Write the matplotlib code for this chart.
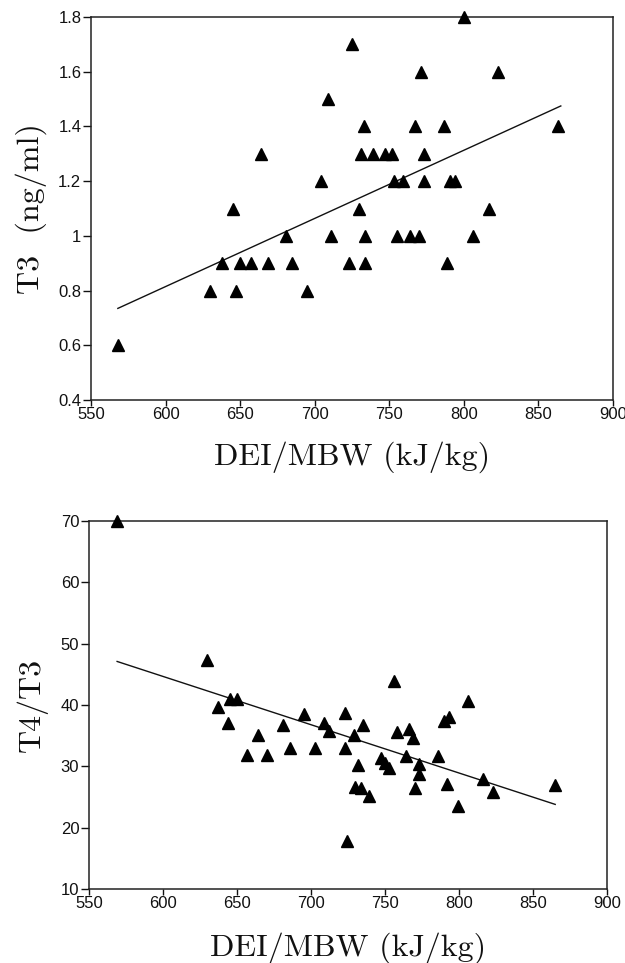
import matplotlib
matplotlib.use("Agg")
import matplotlib.pyplot as plt

# ── data ──────────────────────────────────────────────

# upper panel: T3 (ng/ml) vs DEI/MBW
t3_x = [800, 725, 771, 823, 709, 733, 767, 787, 863,
        664, 731, 739, 747, 752, 773,
        704, 753, 759, 773, 791, 794,
        645, 730, 817,
        681, 711, 734, 755, 764, 770, 806,
        638, 650, 657, 669, 685, 723, 734, 789,
        630, 647, 695,
        568]
t3_y = [1.8, 1.7, 1.6, 1.6, 1.5, 1.4, 1.4, 1.4, 1.4,
        1.3, 1.3, 1.3, 1.3, 1.3, 1.3,
        1.2, 1.2, 1.2, 1.2, 1.2, 1.2,
        1.1, 1.1, 1.1,
        1.0, 1.0, 1.0, 1.0, 1.0, 1.0, 1.0,
        0.9, 0.9, 0.9, 0.9, 0.9, 0.9, 0.9, 0.9,
        0.8, 0.8, 0.8,
        0.6]
t3_fit_x = [568, 865]
t3_fit_y = [0.735, 1.475]

# lower panel: T4/T3 vs DEI/MBW
ratio_x = [569, 630, 756, 645, 650, 806, 637, 793, 790, 695,
           723, 644, 681, 709, 735, 712, 664, 758, 766, 729,
           769, 657, 670, 686, 703, 723, 732, 747, 750, 753,
           764, 773, 773, 786, 730, 734, 739, 770, 792, 816,
           823, 799, 865, 724]
ratio_y = [70.0, 47.4, 43.9, 41.0, 41.0, 40.7, 39.6, 38.0, 37.4, 38.6,
           38.7, 37.1, 36.8, 37.1, 36.8, 35.7, 35.1, 35.6, 36.1, 35.1,
           34.6, 31.9, 31.9, 33.0, 33.0, 33.0, 30.3, 31.4, 30.6, 29.8,
           31.7, 30.4, 28.7, 31.7, 26.6, 26.4, 25.1, 26.4, 27.2, 28.0,
           25.8, 23.5, 26.9, 17.8]
ratio_fit_x = [569, 865]
ratio_fit_y = [47.1, 23.8]

x_ticks = [550, 600, 650, 700, 750, 800, 850, 900]
t3_ticks = [0.4, 0.6, 0.8, 1.0, 1.2, 1.4, 1.6, 1.8]
t3_ticklabels = ["0.4", "0.6", "0.8", "1", "1.2", "1.4", "1.6", "1.8"]
ratio_ticks = [10, 20, 30, 40, 50, 60, 70]

x_label = "DEI/MBW (kJ/kg)"
t3_label = "T3  (ng/ml)"
ratio_label = "T4/T3"

# ── style ─────────────────────────────────────────────

TICK_FONT = "Liberation Sans"
LABEL_FONT = ["cmr10", "DejaVu Serif"]
INK = "#111111"


def _style_axes(ax, yticks, yticklabels):
    for sp in ax.spines.values():
        sp.set_linewidth(1.1)
        sp.set_color("#222222")
    ax.set_xlim(550, 900)
    ax.set_xticks(x_ticks)
    ax.set_xticklabels([str(v) for v in x_ticks], fontfamily=TICK_FONT, fontsize=12)
    ax.set_yticks(yticks)
    ax.set_yticklabels(yticklabels, fontfamily=TICK_FONT, fontsize=12)
    ax.tick_params(axis="x", direction="out", length=4, width=1.0, pad=1, colors=INK)
    ax.tick_params(axis="y", direction="out", length=6, width=1.0, pad=1, colors=INK)


def _panel(ax, xs, ys, fx, fy):
    ax.plot(xs, ys, linestyle="none", marker="^", markersize=9,
            color="black", clip_on=False, zorder=5)
    ax.plot(fx, fy, color=INK, linewidth=1.0, zorder=4)


fig = plt.figure(figsize=(6.25, 9.63), dpi=100, facecolor="white")

# upper panel
ax1 = fig.add_axes([0.1456, 0.5846, 0.8352, 0.3977])
_panel(ax1, t3_x, t3_y, t3_fit_x, t3_fit_y)
ax1.set_ylim(0.4, 1.8)
_style_axes(ax1, t3_ticks, t3_ticklabels)
ax1.set_xlabel(x_label, family=LABEL_FONT, fontsize=23, labelpad=14, color=INK)
ax1.set_ylabel(t3_label, family=LABEL_FONT, fontsize=23, labelpad=8, color=INK)

# lower panel
ax2 = fig.add_axes([0.1424, 0.0768, 0.8288, 0.3822])
_panel(ax2, ratio_x, ratio_y, ratio_fit_x, ratio_fit_y)
ax2.set_ylim(10, 70)
_style_axes(ax2, ratio_ticks, [str(v) for v in ratio_ticks])
ax2.set_xlabel(x_label, family=LABEL_FONT, fontsize=23, labelpad=15, color=INK)
ax2.set_ylabel(ratio_label, family=LABEL_FONT, fontsize=23, labelpad=9, color=INK)

fig.savefig("out.png", dpi=100, facecolor="white")
